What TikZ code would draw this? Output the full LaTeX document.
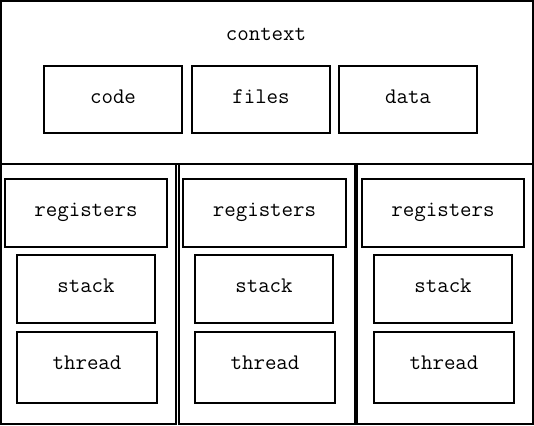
\documentclass[tikz,border=0pt]{standalone}
\usepackage{tikz}

\begin{document}
\begin{tikzpicture}[
	x=1pt, y=-1pt,
	box/.style={draw, line width=1.8pt, inner sep=0pt, text height=12pt, text depth=5pt, font=\ttfamily\fontsize{22.3}{25}\selectfont},
	part/.style={box, minimum width=138pt, minimum height=68pt},
	regbox/.style={box, minimum width=162pt, minimum height=68pt},
	threadbox/.style={box, minimum width=140pt, minimum height=71pt, text depth=8pt},
	column/.style={box, minimum width=175pt, minimum height=260pt}
]
\useasboundingbox (0,0) rectangle (534,425);
% shared context of the process
\node[box, minimum width=532pt, minimum height=163pt] (ctx) at (267,82.5) {};
\node[anchor=base, font=\ttfamily\fontsize{22.3}{25}\selectfont] (ctxlabel) at (266,41) {context};
\node[part, minimum height=67pt] (code) at (113,99.5) {code};
\node[part, minimum height=67pt] (files) at (261,99.5) {files};
\node[part, minimum height=67pt] (data) at (408,99.5) {data};

% one column per thread
\node[column] (colA) at (88.5,294) {};
\node[column, minimum width=176pt] (colB) at (267,294) {};
\node[column, minimum width=176pt] (colC) at (445,294) {};

\node[regbox] (regA) at (86,213) {registers};
\node[part] (stackA) at (86,289) {stack};
\node[threadbox] (threadA) at (87,367.5) {thread};

\node[regbox, minimum width=163pt] (regB) at (264.5,213) {registers};
\node[part] (stackB) at (264,289) {stack};
\node[threadbox] (threadB) at (265,367.5) {thread};

\node[regbox] (regC) at (443,213) {registers};
\node[part] (stackC) at (443,289) {stack};
\node[threadbox] (threadC) at (444,367.5) {thread};
\end{tikzpicture}
\end{document}
